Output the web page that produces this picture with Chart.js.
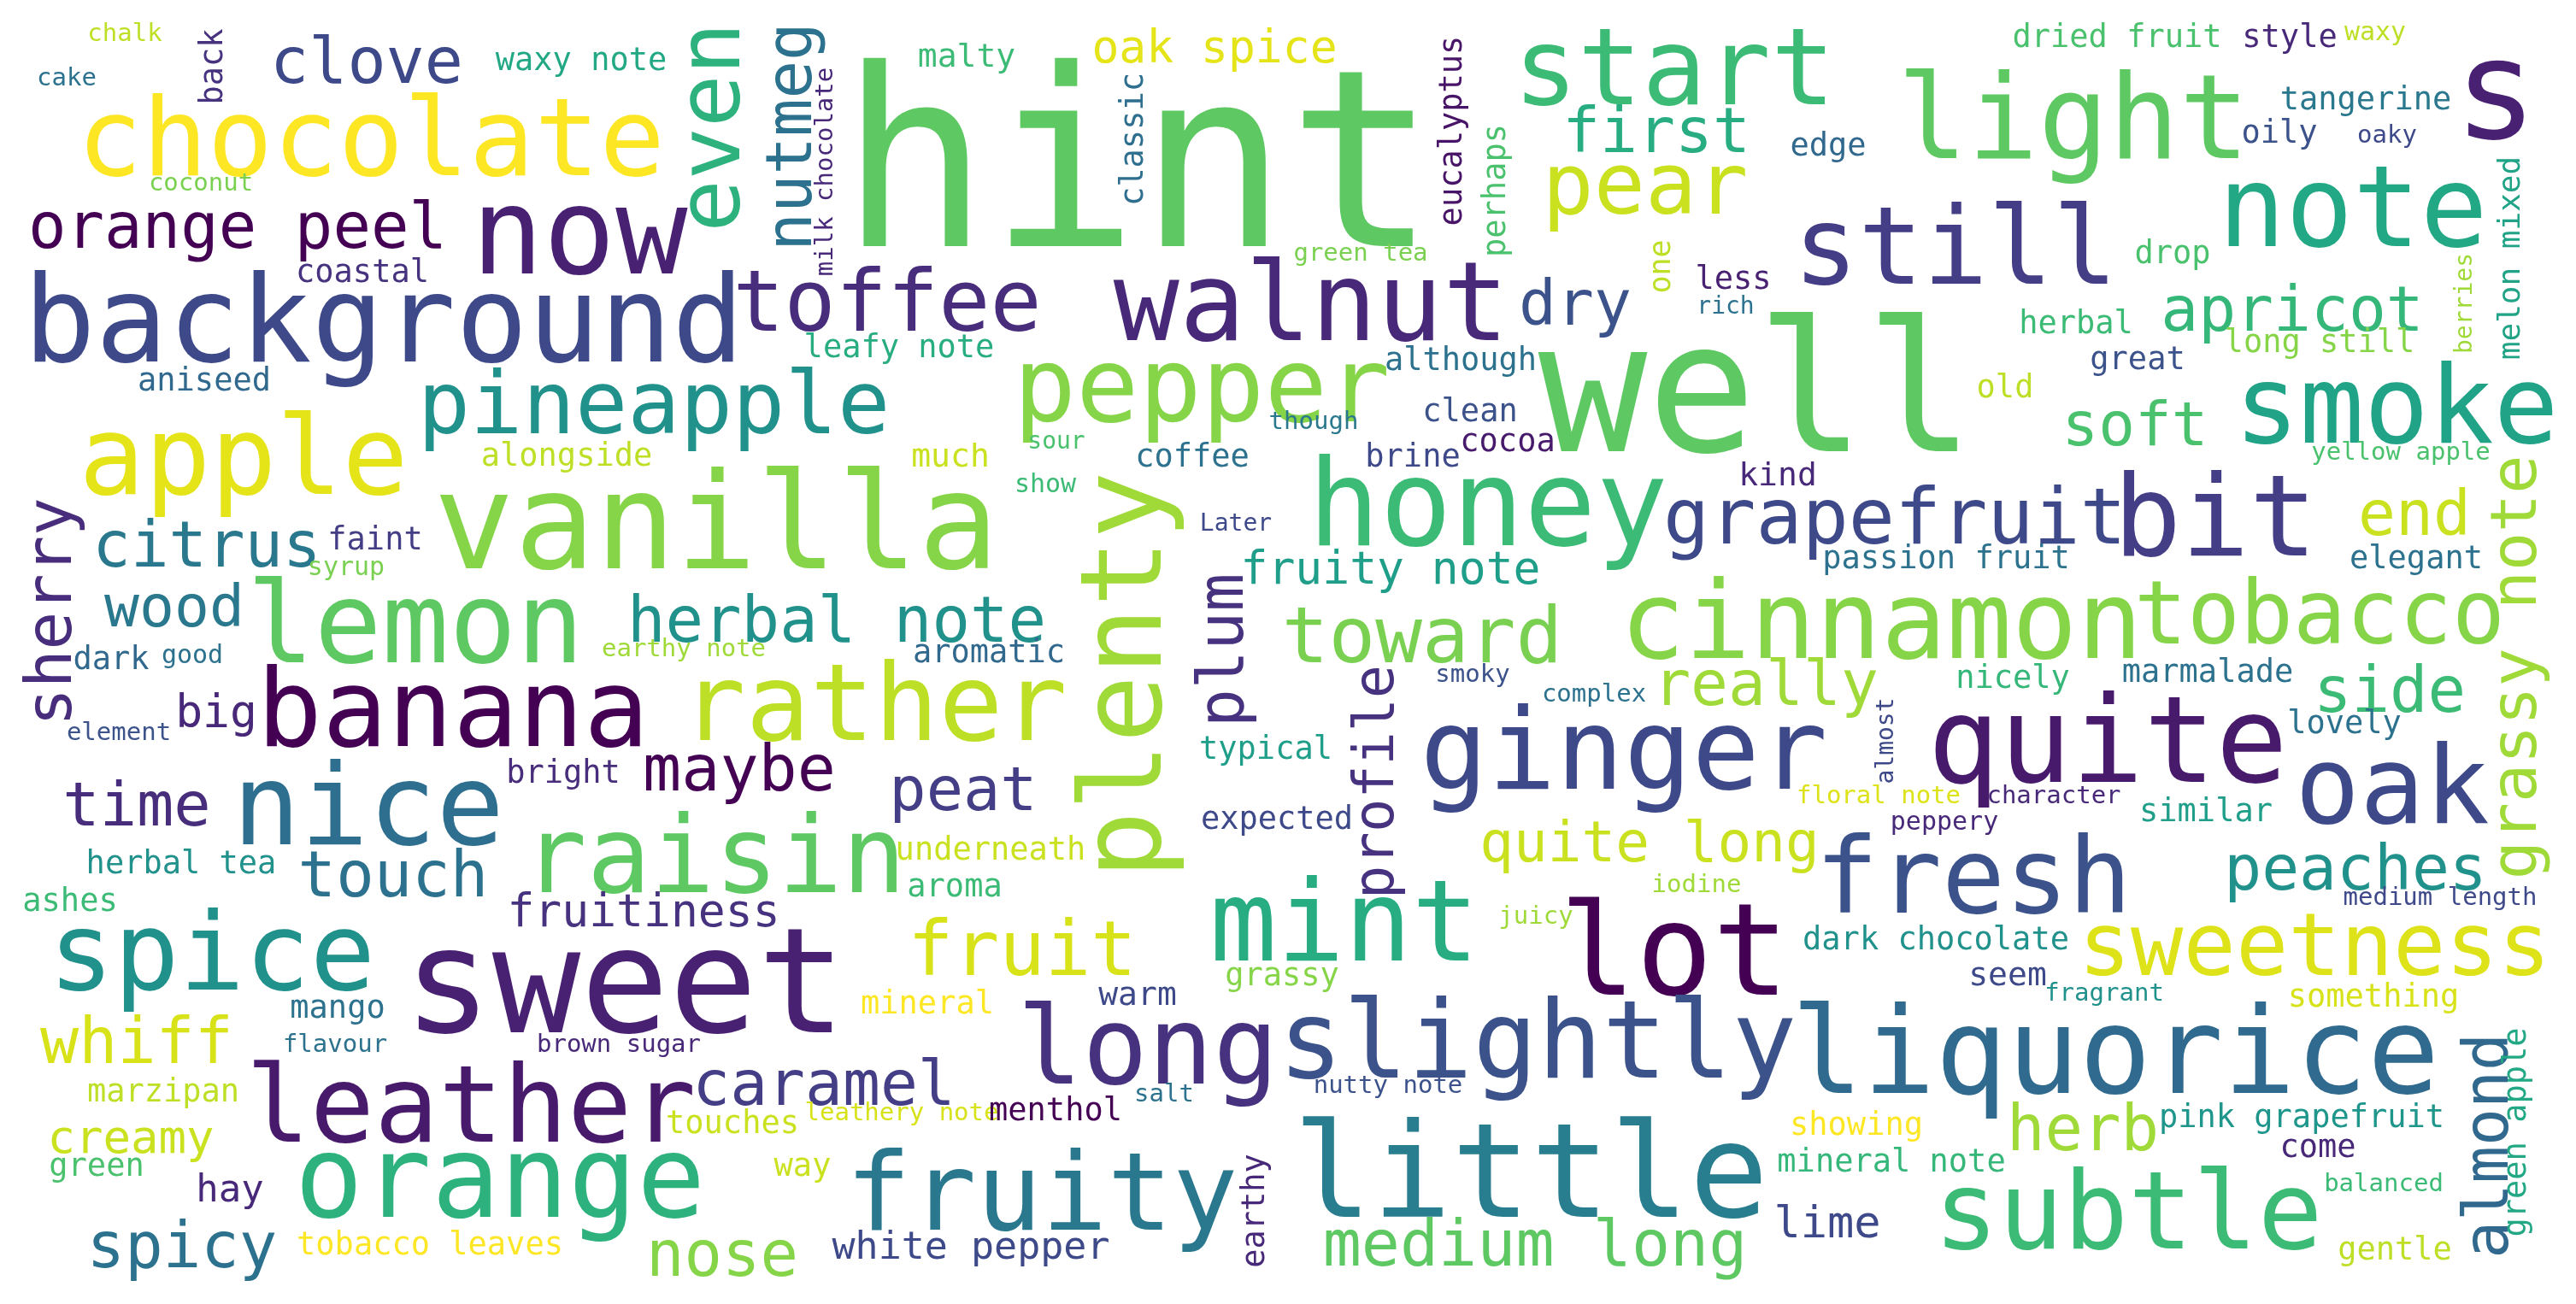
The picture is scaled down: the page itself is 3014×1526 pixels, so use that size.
<!DOCTYPE html>
<html>
<head>
<meta charset="utf-8">
<script src="https://cdn.jsdelivr.net/npm/chart.js@4"></script>
<style>
  html, body { margin: 0; padding: 0; background: #ffffff; }
  #wrap { width: 3014px; height: 1526px; }
</style>
</head>
<body>
<div id="wrap"><canvas id="c" width="3014" height="1526"></canvas></div>
<script>
// Word cloud data: word, position in the cloud (x, y), weight (font size), orientation flag, colour
const words = ["chalk","cake","back","clove","waxy note","even","nutmeg","milk chocolate","chocolate","coconut",
"orange peel","now","coastal","background","toffee","aniseed","pineapple","hint","malty","oak spice",
"classic","eucalyptus","perhaps","start","first","pear","green tea","one","walnut","dry",
"less","rich","leafy note","pepper","although","clean","though","well","dried fruit","style",
"waxy","light","tangerine","s","edge","oily","oaky","note","still","drop",
"berries","melon mixed","apricot","herbal","long still","great","old","smoke","soft","apple",
"alongside","vanilla","sherry","citrus","faint","syrup","wood","lemon","herbal note","earthy note",
"dark","good","banana","rather","big","element","bright","maybe","time","nice",
"raisin","herbal tea","touch","ashes","fruitiness","spice","sweet","mango","whiff","flavour",
"brown sugar","leather","caramel","marzipan","touches","leathery note","creamy","green","orange","way",
"hay","spicy","tobacco leaves","nose","white pepper","aroma","fruit","mint","iodine","juicy",
"lot","grassy","mineral","warm","long","slightly","liquorice","salt","nutty note","menthol",
"fruity","earthy","little","medium long","fresh","peaches","medium length","dark chocolate","sweetness","seem",
"fragrant","something","showing","herb","pink grapefruit","come","almond","green apple","mineral note","balanced",
"lime","subtle","gentle","sour","much","coffee","brine","cocoa","show","plenty",
"Later","honey","fruity note","aromatic","plum","toward","cinnamon","profile","smoky","complex",
"really","typical","ginger","peat","expected","underneath","quite long","yellow apple","kind","grapefruit",
"bit","end","grassy note","passion fruit","elegant","tobacco","nicely","marmalade","side","almost",
"quite","lovely","oak","floral note","character","similar","peppery"];

const wordX = [146,78,260,429,680,865,949,974,434,235,
278,678,424,449,1038,239,765,1332,1131,1421,
1337,1710,1761,1959,1938,1925,1592,1954,1534,1843,
2028,2019,1052,1406,1709,1720,1537,2055,2477,2679,
2779,2426,2768,2920,2139,2667,2793,2753,2288,2542,
2892,2948,2682,2429,2714,2501,2346,2804,2498,285,
663,838,83,242,439,405,204,486,979,800,
130,225,530,1023,253,139,659,865,160,431,
836,212,460,82,753,248,731,395,160,392,
724,551,964,191,857,1055,153,113,585,939,
269,213,503,845,1136,1117,1196,1573,1985,1797,
1959,1500,1085,1331,1343,1799,2475,1362,1624,1235,
1219,1479,1791,1796,2309,2756,2855,2265,2708,2349,
2462,2777,2172,2437,2693,2712,2934,2955,2213,2789,
2138,2490,2802,1236,1112,1395,1653,1764,1223,1358,
1446,1741,1627,1157,1454,1664,2201,1630,1723,1865,
2066,1481,1900,1127,1494,1159,1930,2809,2080,2217,
2592,2825,2967,2277,2827,2714,2355,2583,2796,2215,
2466,2743,2799,2198,2403,2581,2275];

const wordY = [48,100,78,97,82,149,160,201,205,223,
290,320,330,423,387,457,507,288,78,73,
163,153,223,122,178,250,305,312,398,380,
338,367,418,493,433,493,502,528,55,55,
47,185,128,162,182,167,167,288,332,308,
355,302,387,390,412,432,465,518,521,578,
545,665,716,663,643,673,733,775,751,768,
783,776,873,866,851,866,916,925,966,988,
1044,1022,1049,1066,1084,1158,1208,1191,1244,1231,
1231,1336,1293,1289,1326,1311,1349,1376,1424,1376,
1406,1483,1468,1493,1473,1049,1141,1124,1044,1081,
1164,1153,1186,1176,1268,1261,1279,1289,1279,1311,
1439,1417,1424,1481,1068,1041,1059,1111,1141,1153,
1171,1178,1328,1346,1319,1354,1341,1325,1371,1394,
1448,1461,1474,525,546,546,546,528,576,790,
621,638,683,775,761,775,770,915,798,821,
825,888,923,948,970,1006,1008,538,568,636,
650,626,781,665,665,753,805,798,833,867,
915,858,963,940,940,961,971];

const wordWeight = [29,29,37,75,37,102,74,29,127,29,
74,140,37,140,100,37,102,290,38,53,
37,37,37,125,73,100,29,35,128,73,
37,28,37,122,37,37,29,212,37,37,
30,137,37,162,37,37,29,131,126,37,
28,36,73,37,37,37,37,126,71,128,
37,157,74,74,37,30,68,131,74,29,
37,30,127,125,53,29,37,75,72,132,
124,37,74,37,53,127,172,37,75,29,
29,125,73,37,37,29,54,37,133,37,
44,74,37,74,45,37,89,131,29,29,
149,37,37,38,127,126,140,29,29,37,
127,37,154,75,123,73,29,37,102,38,
29,37,37,74,37,37,73,37,37,29,
52,126,37,28,38,37,37,37,30,132,
28,140,53,37,75,91,127,65,29,29,
73,37,132,72,37,37,66,29,38,90,
132,73,75,37,37,103,37,37,74,28,
140,37,126,29,29,37,30];

const wordVertical = [0,0,1,0,0,1,1,1,0,0,
0,0,0,0,0,0,0,0,0,0,
1,1,1,0,0,0,0,1,0,0,
0,0,0,0,0,0,0,0,0,0,
0,0,0,0,0,0,0,0,0,0,
1,1,0,0,0,0,0,0,0,0,
0,0,1,0,0,0,0,0,0,0,
0,0,0,0,0,0,0,0,0,0,
0,0,0,0,0,0,0,0,0,0,
0,0,0,0,0,0,0,0,0,0,
0,0,0,0,0,0,0,0,0,0,
0,0,0,0,0,0,0,0,0,0,
0,1,0,0,0,0,0,0,0,0,
0,0,0,0,0,0,1,1,0,0,
0,0,0,0,0,0,0,0,0,1,
0,0,0,0,1,0,0,1,0,0,
0,0,0,0,0,0,0,0,0,0,
0,0,1,0,0,0,0,0,0,1,
0,0,0,0,0,0,0];

const wordColors = ["#bddf26","#2c728e","#46327e","#3e4989","#22a884","#2db27d","#2c728e","#482878","#fde725","#7ad151",
"#440154","#482173","#46327e","#3e4989","#472d7b","#31688e","#21918c","#5ec962","#3bbb75","#e5e419",
"#2e6e8e","#481467","#4ac16d","#3bbb75","#27ad81","#cae11f","#7ad151","#bddf26","#482878","#3b528b",
"#482173","#2c728e","#27ad81","#86d549","#2c728e","#3b528b","#2a788e","#5ec962","#4ac16d","#482878",
"#bddf26","#5ec962","#2a788e","#482173","#31688e","#3b528b","#3e4989","#22a884","#433e85","#4ac16d",
"#a0da39","#20a386","#35b779","#3bbb75","#86d549","#3b528b","#bddf26","#20a386","#4ac16d","#e5e419",
"#bddf26","#86d549","#472d7b","#2a788e","#433e85","#7ad151","#2a788e","#5ec962","#21918c","#a0da39",
"#31688e","#2c728e","#440154","#bddf26","#482878","#3b528b","#472d7b","#440154","#472d7b","#2e6e8e",
"#5ec962","#21918c","#2c728e","#3bbb75","#46327e","#21918c","#482173","#2c728e","#d8e219","#2c728e",
"#482878","#481a6c","#433e85","#bddf26","#cae11f","#d8e219","#cae11f","#4ac16d","#2db27d","#cae11f",
"#482878","#2c728e","#fde725","#86d549","#3e4989","#3bbb75","#d8e219","#27ad81","#a0da39","#a0da39",
"#440154","#86d549","#fde725","#3e4989","#46327e","#3b528b","#306a8e","#2c728e","#3b528b","#440154",
"#2a788e","#482878","#287d8e","#5ec962","#3b528b","#21918c","#3e4989","#21918c","#dde318","#3e4989",
"#21918c","#d8e219","#fde725","#a0da39","#1f968b","#482878","#31688e","#22a884","#35b779","#3bbb75",
"#3e4989","#3bbb75","#bddf26","#4ac16d","#cae11f","#2c728e","#3e4989","#481a6c","#3bbb75","#a0da39",
"#3e4989","#3bbb75","#1f9e89","#31688e","#46327e","#7ad151","#86d549","#46327e","#3b528b","#2c728e",
"#a0da39","#1f9e89","#3e4989","#433e85","#3e4989","#cae11f","#cae11f","#4ac16d","#482878","#3e4989",
"#433e85","#cae11f","#a0da39","#2c728e","#2c728e","#86d549","#35b779","#2c728e","#3bbb75","#3e4989",
"#481a6c","#2c728e","#3e4989","#dde318","#482878","#1f9e89","#482878"];

const cloudWidth = 3014;
const cloudHeight = 1526;

const wordPlugin = {
  id: 'wordText',
  afterDatasetsDraw(chart) {
    const ctx = chart.ctx;
    const meta = chart.getDatasetMeta(0);
    const xs = chart.scales.x;
    const unit = Math.abs(xs.getPixelForValue(1) - xs.getPixelForValue(0));
    ctx.save();
    meta.data.forEach((pt, i) => {
      const size = wordWeight[i] * unit;
      ctx.font = size.toFixed(1) + 'px "DejaVu Sans Mono", "Liberation Mono", monospace';
      ctx.fillStyle = wordColors[i];
      ctx.textAlign = 'center';
      ctx.textBaseline = 'alphabetic';
      if (wordVertical[i]) {
        ctx.save();
        ctx.translate(pt.x, pt.y);
        ctx.rotate(-Math.PI / 2);
        ctx.fillText(words[i], 0, 0);
        ctx.restore();
      } else {
        ctx.fillText(words[i], pt.x, pt.y);
      }
    });
    ctx.restore();
  }
};

const bgPlugin = {
  id: 'bg',
  beforeDraw(chart) {
    const ctx = chart.ctx;
    ctx.save();
    ctx.fillStyle = '#ffffff';
    ctx.fillRect(0, 0, chart.width, chart.height);
    ctx.restore();
  }
};

new Chart(document.getElementById('c'), {
  type: 'scatter',
  data: {
    datasets: [{
      label: 'words',
      data: words.map((w, i) => ({ x: wordX[i], y: wordY[i] })),
      pointRadius: 0,
      pointHoverRadius: 0
    }]
  },
  options: {
    responsive: false,
    devicePixelRatio: 1,
    animation: false,
    layout: { padding: 0 },
    plugins: { legend: { display: false }, tooltip: { enabled: false } },
    scales: {
      x: { type: 'linear', min: 0, max: cloudWidth, display: false },
      y: { type: 'linear', min: 0, max: cloudHeight, reverse: true, display: false }
    }
  },
  plugins: [bgPlugin, wordPlugin]
});
</script>
</body>
</html>
